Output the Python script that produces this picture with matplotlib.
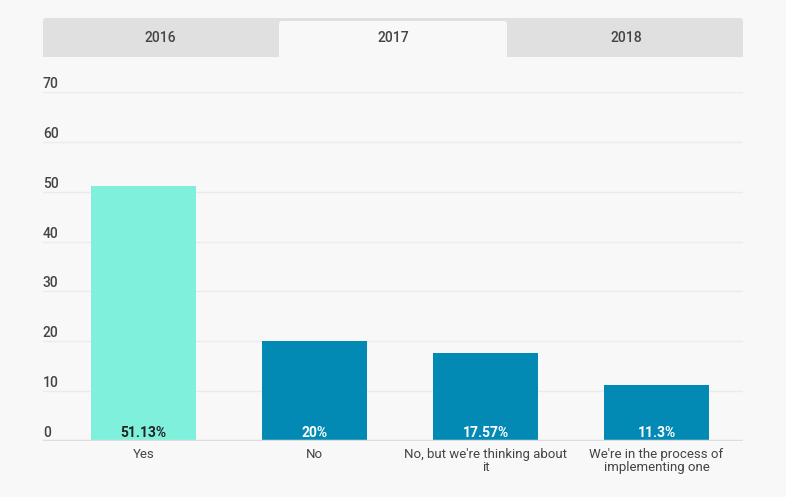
import matplotlib
matplotlib.use("Agg")
import matplotlib.pyplot as plt
from matplotlib.patches import FancyBboxPatch, Rectangle

# Data
categories = ["Yes", "No", "No, but we're thinking about\nit", "We're in the process of\nimplementing one"]
values = [51.13, 20, 17.57, 11.3]
value_labels = ["51.13%", "20%", "17.57%", "11.3%"]
tabs = ["2016", "2017", "2018"]
active_tab = "2017"
y_ticks = [0, 10, 20, 30, 40, 50, 60, 70]

bg = "#f8f8f8"
mint = "#7ff0dc"
blue = "#028ab5"
text_col = "#444444"

plt.rcParams["font.family"] = ["Roboto", "DejaVu Sans"]

W, H = 786, 497
fig = plt.figure(figsize=(W / 100, H / 100), dpi=100, facecolor=bg)

# tab strip drawn in pixel coords on an overlay axes
tab_ax = fig.add_axes([0, 0, 1, 1])
tab_ax.set_xlim(0, W)
tab_ax.set_ylim(H, 0)
tab_ax.axis("off")
tab_ax.add_patch(FancyBboxPatch((43, 18), 700, 39, boxstyle="round,pad=0,rounding_size=3",
                                facecolor="#e0e0e0", edgecolor="none"))
tab_ax.add_patch(Rectangle((43, 40), 700, 17, facecolor="#e0e0e0", edgecolor="none"))
tab_x = [160, 393, 626]
for i, t in enumerate(tabs):
    if t == active_tab:
        tab_ax.add_patch(FancyBboxPatch((279, 21), 228, 36, boxstyle="round,pad=0,rounding_size=3",
                                        facecolor=bg, edgecolor="none"))
        tab_ax.add_patch(Rectangle((279, 40), 228, 17, facecolor=bg, edgecolor="none"))
    tab_ax.text(tab_x[i], 38, t, ha="center", va="center", fontsize=10,
                fontweight="medium", color=text_col)

# main chart
ax = fig.add_axes([43 / W, (H - 441) / H, 700 / W, 349 / H])
ax.set_facecolor("none")
x = list(range(len(categories)))
colors = [mint] + [blue] * (len(categories) - 1)
ax.bar(x, values, width=0.614, color=colors, zorder=2)
ax.set_xlim(-0.588, 3.506)
ax.set_ylim(0, 70)

for yt in y_ticks:
    if yt > 0:
        ax.axhline(yt, color="#ebebeb", lw=1, zorder=1)
    ax.text(-0.588, yt + 0.8, str(yt), ha="left", va="baseline", fontsize=10,
            fontweight="medium", color=text_col)
ax.axhline(0, color="#dddddd", lw=2.5, zorder=3)

for i, lab in enumerate(value_labels):
    c = "#222222" if i == 0 else "white"
    ax.text(i, 0.85, lab, ha="center", va="baseline", fontsize=10, fontweight="bold", color=c, zorder=4)

for i, cat in enumerate(categories):
    ax.text(i, -1.4, cat, ha="center", va="top", fontsize=9.5, color=text_col,
            linespacing=1.05)

for s in ax.spines.values():
    s.set_visible(False)
ax.set_xticks([])
ax.set_yticks([])

fig.savefig("out.png", dpi=100, facecolor=bg)
